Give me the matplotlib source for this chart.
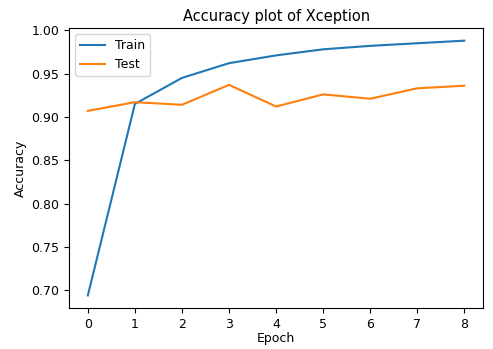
import matplotlib
matplotlib.use("Agg")
import matplotlib.pyplot as plt

epochs = [0, 1, 2, 3, 4, 5, 6, 7, 8]
train_acc = [0.694, 0.915, 0.945, 0.962, 0.971, 0.978, 0.982, 0.985, 0.988]
test_acc = [0.907, 0.917, 0.914, 0.937, 0.912, 0.926, 0.921, 0.933, 0.936]

plt.rcParams['font.size'] = 9

fig, ax = plt.subplots(figsize=(4.93, 3.49), dpi=100)
fig.subplots_adjust(left=0.14, right=0.98, top=0.92, bottom=0.117)

ax.plot(epochs, train_acc, color='#1f77b4', linewidth=1.5, label='Train')
ax.plot(epochs, test_acc, color='#ff7f0e', linewidth=1.5, label='Test')

ax.set_title('Accuracy plot of Xception', fontsize=10.5, pad=5)
ax.set_xlabel('Epoch', labelpad=1)
ax.set_ylabel('Accuracy', labelpad=3)
ax.legend(loc='upper left')

fig.savefig('out.png')
